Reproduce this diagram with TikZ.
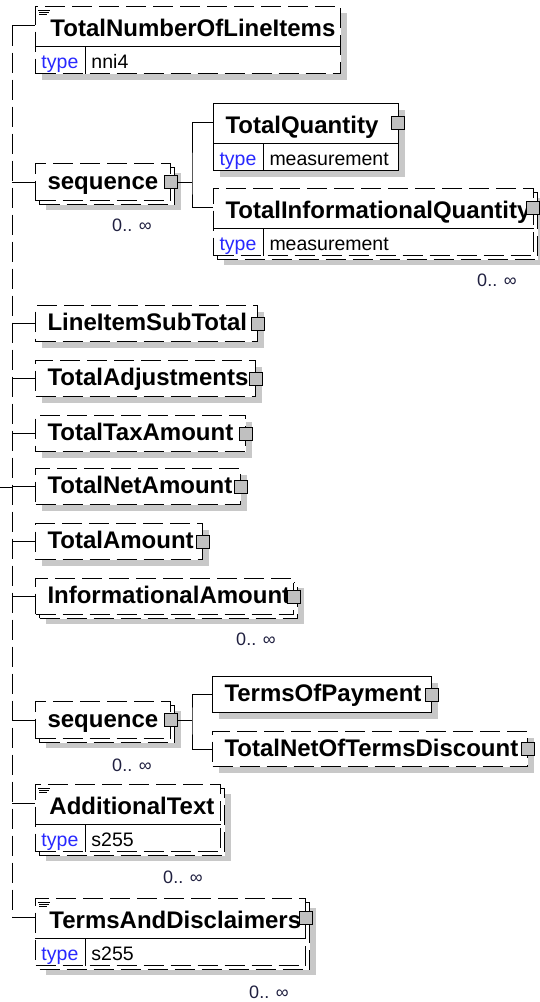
\documentclass[tikz,border=0pt]{standalone}
\usepackage{fontspec}
\setmainfont{Liberation Sans}
\usetikzlibrary{shapes.multipart}
\usetikzlibrary{shadows}

\definecolor{shadegray}{RGB}{200,200,200}
\definecolor{boxgray}{RGB}{192,192,192}
\definecolor{typeblue}{RGB}{40,40,255}
\definecolor{occink}{RGB}{32,32,64}

\hyphenpenalty=10000
\exhyphenpenalty=10000

\newcommand\elfont{\fontsize{24}{28}\selectfont\bfseries}
% name row of a typed element: 39pt high, baseline 10pt above the divider
\newcommand\namerow[2]{\rule{0pt}{39pt}\hspace*{#1}\raisebox{10pt}{#2}}
% type row: 26pt high, baseline 5pt above the bottom
\newcommand\typeinfo[1]{\normalfont\fontsize{19.5}{22}\selectfont\rule{0pt}{26pt}%
  \raisebox{5pt}{\makebox[50pt][l]{\color{typeblue}type}#1}}
% little documentation mark in the top left corner
\newcommand\docmark[1]{%
  \draw[line width=0.8pt] ([xshift=3pt,yshift=-4.5pt]#1.north west) -- ++(12,0)
    ([xshift=4pt,yshift=-6.5pt]#1.north west) -- ++(10,0)
    ([xshift=4pt,yshift=-8.5pt]#1.north west) -- ++(8,0);}

\begin{document}
\begin{tikzpicture}[x=1pt,y=-1pt,
  el/.style={draw, fill=white, line width=1pt, anchor=north west, inner xsep=6pt,
    inner ysep=0pt, font=\elfont, align=left},
  flat/.style={minimum height=#1, text height=19pt, text depth=5pt},
  flat/.default=36pt,
  typed/.style={rectangle split, rectangle split parts=2, rectangle split draw splits=false},
  opt/.style={dash pattern=on 20pt off 7pt},
  one/.style={drop shadow={shadow xshift=6pt, shadow yshift=-6pt, fill=shadegray, opacity=1}},
  many/.style={drop shadow={shadow xshift=10pt, shadow yshift=-9pt, fill=shadegray, opacity=1},
    copy shadow={shadow xshift=4pt, shadow yshift=-4pt, draw, fill=white}},
  plus/.style={draw, solid, fill=boxgray, line width=1pt, minimum size=13pt, inner sep=0pt},
  occ/.style={font=\fontsize{18}{20}\selectfont, text=occink, inner sep=0pt},
  link/.style={line width=1pt}]

  \useasboundingbox (0,0) rectangle (539,1002);

  \coordinate (root) at (0,487);
  \coordinate (spine) at (12,487);

  % child elements
  \node[el, typed, opt, one, text width=293pt] (num) at (35,6)
    {\namerow{9pt}{TotalNumberOfLineItems}\nodepart{two}\typeinfo{nni4}};
  \node[el, flat=37pt, opt, many, text width=123pt] (seqA) at (35,163) {\hspace*{6pt}sequence};
  \node[el, typed, one, text width=173pt] (tq) at (213,103)
    {\namerow{6pt}{TotalQuantity}\nodepart{two}\typeinfo{measurement}};
  \node[el, typed, opt, many, text width=308pt] (tiq) at (213,188)
    {\namerow{6pt}{TotalInformationalQuantity}\nodepart{two}\typeinfo{measurement}};
  \node[el, flat, opt, one, text width=210pt] (list) at (35,305) {\hspace*{6pt}LineItemSubTotal};
  \node[el, flat, opt, one, text width=208pt] (adj) at (35,360) {\hspace*{6pt}TotalAdjustments};
  \node[el, flat, opt, one, text width=198pt] (tax) at (35,415) {\hspace*{6pt}TotalTaxAmount};
  \node[el, flat, opt, one, text width=193pt] (net) at (35,468) {\hspace*{6pt}TotalNetAmount};
  \node[el, flat, opt, one, text width=155pt] (tot) at (35,523) {\hspace*{6pt}TotalAmount};
  \node[el, flat, opt, many, text width=246pt] (info) at (35,578) {\hspace*{6pt}InformationalAmount};
  \node[el, flat=37pt, opt, many, text width=123pt] (seqB) at (35,701) {\hspace*{6pt}sequence};
  \node[el, flat, one, text width=207pt] (pay) at (212,676) {\hspace*{6pt}TermsOfPayment};
  \node[el, flat=35pt, opt, one, text width=303pt] (disc) at (212,731) {\hspace*{6pt}TotalNetOfTermsDiscount};
  \node[el, typed, opt, many, text width=173pt] (add) at (35,784)
    {\namerow{8pt}{AdditionalText}\nodepart{two}\typeinfo{s255}};
  \node[el, typed, opt, many, text width=258pt] (terms) at (35,898)
    {\namerow{8pt}{TermsAndDisclaimers}\nodepart{two}\typeinfo{s255}};

  % name row / type row dividers
  \foreach \n in {num, tq, tiq, add, terms} {
    \draw[link] (\n.text split west) -- (\n.text split east);
    \draw[link] ([xshift=50pt]\n.text split west) -- ([xshift=50pt]\n.south west);
  }
  \docmark{num}
  \docmark{add}
  \docmark{terms}

  % expand boxes
  \node[plus] (seqAp) at (seqA.east) {};
  \node[plus] (tqp) at ([xshift=-1.5pt,yshift=-19.5pt]tq.north east) {};
  \node[plus] (tiqp) at ([xshift=-1.5pt,yshift=-19.5pt]tiq.north east) {};
  \node[plus] (listp) at (list.east) {};
  \node[plus] (adjp) at (adj.east) {};
  \node[plus] (taxp) at (tax.east) {};
  \node[plus] (netp) at (net.east) {};
  \node[plus] (totp) at (tot.east) {};
  \node[plus] (infop) at (info.east) {};
  \node[plus] (seqBp) at (seqB.east) {};
  \node[plus] (payp) at (pay.east) {};
  \node[plus] (discp) at (disc.east) {};
  \node[plus] (termsp) at ([yshift=-19.5pt]terms.north east) {};

  % occurrences
  \node[occ] (seqAn) at (132,225) {0.. ∞};
  \node[occ] (tiqn) at (497,280) {0.. ∞};
  \node[occ] (infon) at (256,639) {0.. ∞};
  \node[occ] (seqBn) at (132,765) {0.. ∞};
  \node[occ] (addn) at (183,877) {0.. ∞};
  \node[occ] (termsn) at (269,992) {0.. ∞};

  % connectors
  \coordinate (numrow) at ([yshift=-19.5pt]num.north west);
  \coordinate (tqrow) at ([yshift=-19.5pt]tq.north west);
  \coordinate (tiqrow) at ([yshift=-19.5pt]tiq.north west);
  \coordinate (addrow) at ([yshift=-19.5pt]add.north west);
  \coordinate (termsrow) at ([yshift=-19.5pt]terms.north west);

  \draw[link] (root) -- (spine);
  \draw[link, opt] (spine |- numrow) -- (spine |- termsrow);
  \foreach \n in {numrow, seqA, list, adj, tax, net, tot, info, seqB, addrow, termsrow}
    \draw[link] (spine |- \n) -- (\n);

  \coordinate (seqAj) at ([xshift=14pt]seqAp.east);
  \draw[link] (seqAp) -- (seqAj);
  \draw[link] (tqrow) -| (seqAj) |- (tiqrow);
  \coordinate (seqBj) at ([xshift=14pt]seqBp.east);
  \draw[link] (seqBp) -- (seqBj);
  \draw[link] (pay) -| (seqBj) |- (disc);
\end{tikzpicture}
\end{document}
